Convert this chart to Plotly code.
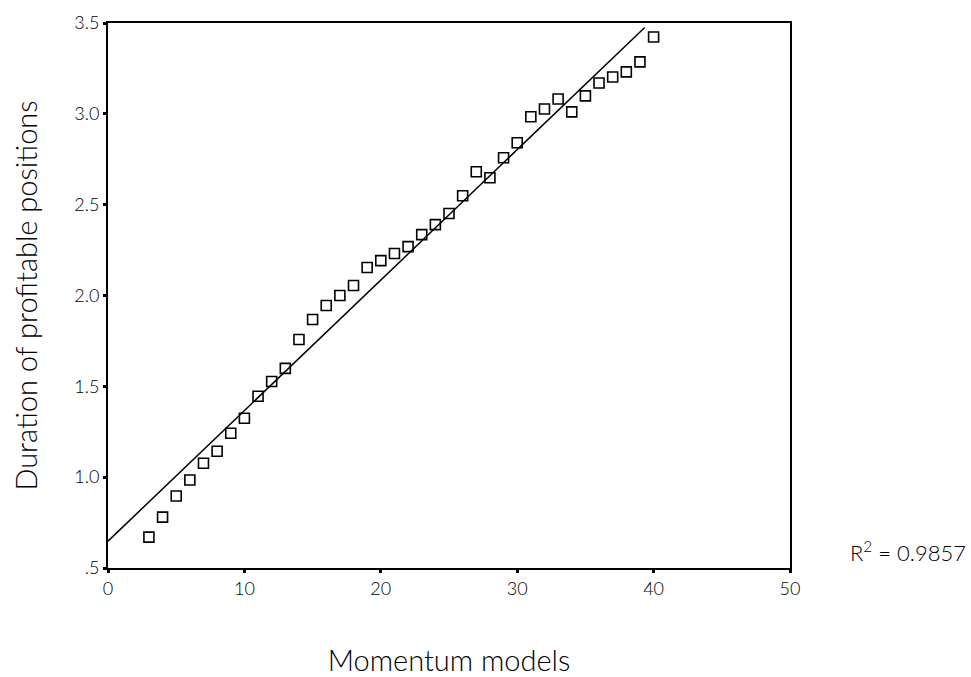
import plotly.graph_objects as go

models = list(range(3, 41))
duration = [0.670, 0.780, 0.896, 0.984, 1.077, 1.143, 1.242, 1.324, 1.445, 1.527,
            1.599, 1.758, 1.868, 1.945, 2.000, 2.055, 2.154, 2.192, 2.231, 2.269,
            2.335, 2.390, 2.451, 2.549, 2.681, 2.648, 2.758, 2.841, 2.984, 3.027,
            3.082, 3.011, 3.099, 3.170, 3.203, 3.231, 3.286, 3.423]

fit_x = [0, 39.35]
fit_y = [0.648, 3.475]

y_tickvals = [0.5, 1.0, 1.5, 2.0, 2.5, 3.0, 3.5]
y_ticktext = [".5", "1.0", "1.5", "2.0", "2.5", "3.0", "3.5"]
x_tickvals = [0, 10, 20, 30, 40, 50]

r2_text = "R<sup>2</sup> = 0.9857"

FONT = "Lato"

fig = go.Figure()
fig.add_trace(go.Scatter(
    x=fit_x, y=fit_y, mode="lines",
    line=dict(color="black", width=1.5), showlegend=False, hoverinfo="skip"))
fig.add_trace(go.Scatter(
    x=models, y=duration, mode="markers",
    marker=dict(symbol="square-open", size=10, color="black", line=dict(width=1.6)),
    showlegend=False))

fig.update_layout(
    width=971, height=677,
    margin=dict(l=108, r=181, t=23, b=109),
    paper_bgcolor="white", plot_bgcolor="white",
    font=dict(family=FONT, color="black", size=18, weight=300),
    xaxis=dict(range=[0, 50], tickvals=x_tickvals, showgrid=False, zeroline=False,
               showline=True, linecolor="black", linewidth=2, mirror=True,
               ticks="outside", ticklen=3, tickwidth=3, tickcolor="black",
               tickfont=dict(size=18, weight=300), automargin=False,
               title=dict(text="Momentum models", font=dict(size=29, weight=300), standoff=56)),
    yaxis=dict(range=[0.5, 3.5], tickvals=y_tickvals, ticktext=y_ticktext,
               showgrid=False, zeroline=False,
               showline=True, linecolor="black", linewidth=2, mirror=True,
               ticks="outside", ticklen=3, tickwidth=3, tickcolor="black",
               tickfont=dict(size=18, weight=300), automargin=False,
               title=dict(text="Duration of profitable positions", font=dict(size=29, weight=300), standoff=28)),
    annotations=[dict(text=r2_text, xref="paper", yref="paper", x=1.085, y=0.03,
                      xanchor="left", yanchor="middle", showarrow=False,
                      font=dict(size=22, family=FONT, weight=300))],
)

fig.write_html("out.html")
